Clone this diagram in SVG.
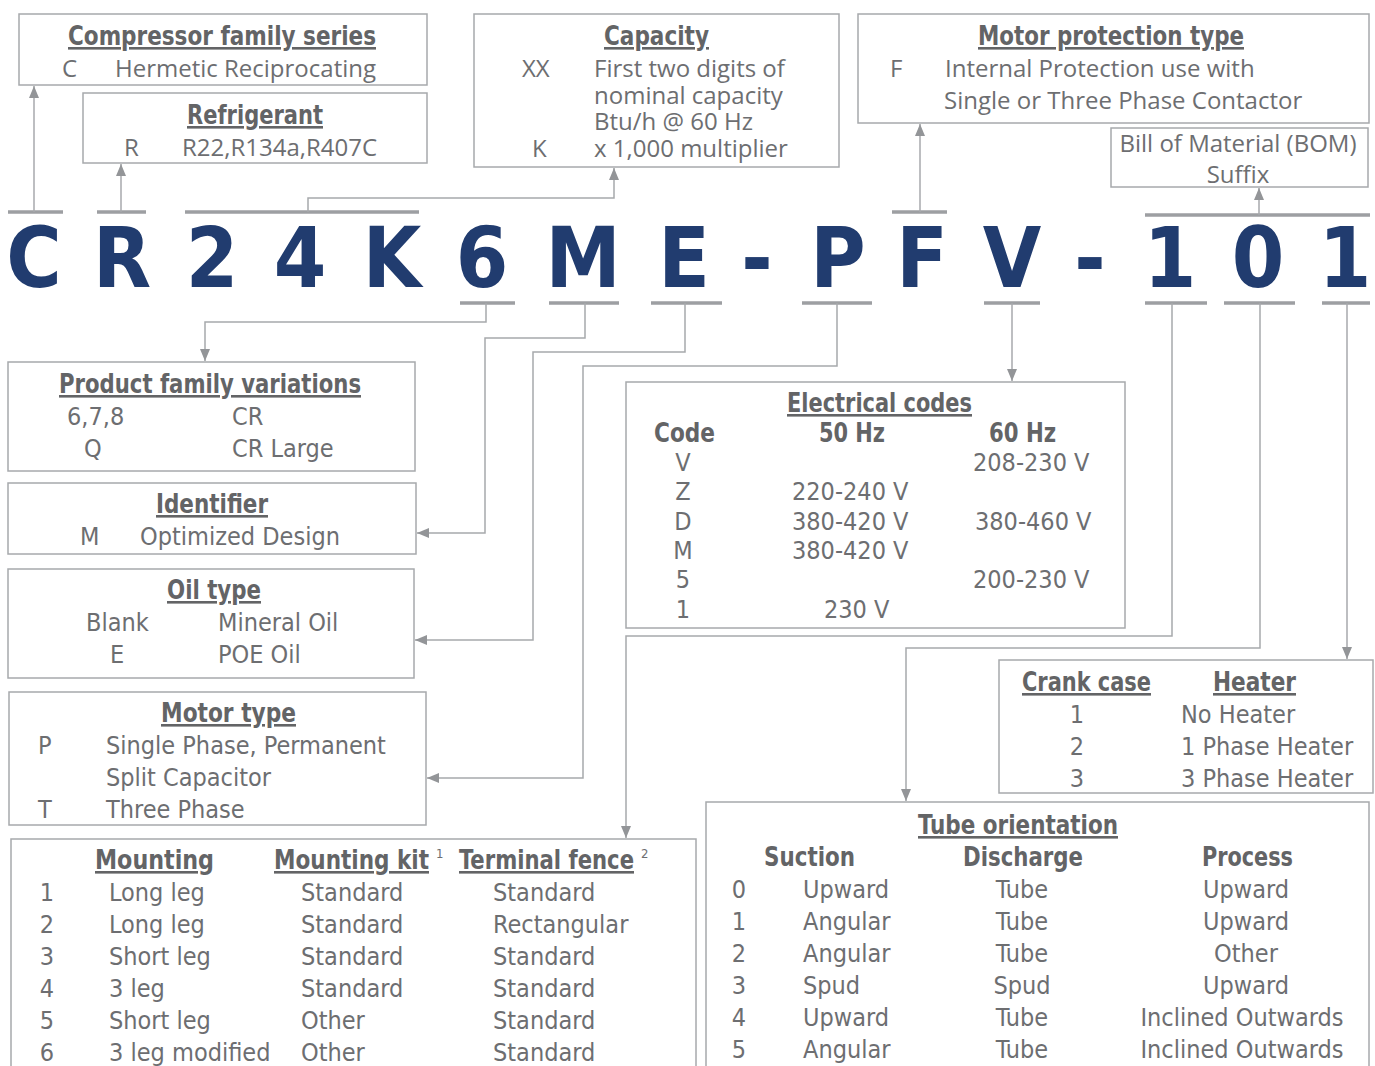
<svg xmlns="http://www.w3.org/2000/svg" width="1375" height="1066" viewBox="0 0 1375 1066">
<style>
.box{fill:#fff;stroke:#a7a9ac;stroke-width:1.5}
.t{font-family:"Liberation Sans Narrow","DejaVu Sans Condensed","Roboto",sans-serif;font-size:25px;fill:#6d6e71}
.tw{font-family:"Open Sans","Noto Sans",sans-serif;font-size:24px;fill:#6d6e71}
.h{font-family:"Liberation Sans Narrow","DejaVu Sans Condensed","Roboto",sans-serif;font-size:26px;font-weight:bold;fill:#636466;text-decoration:underline}
.hb{font-family:"Liberation Sans Narrow","DejaVu Sans Condensed","Roboto",sans-serif;font-size:26px;font-weight:bold;fill:#636466}
.m{text-anchor:middle}
.big{font-family:"Liberation Sans Narrow","DejaVu Sans Condensed","Roboto",sans-serif;font-size:84px;font-weight:bold;fill:#213c6f;text-anchor:middle}
.bar{stroke:#9d9fa2;stroke-width:3.5;fill:none}
.c{stroke:#a7a9ac;stroke-width:1.5;fill:none}
.sup{font-size:13px}
</style>
<defs>
<marker id="ah" viewBox="0 0 12 12" refX="12" refY="6" markerWidth="12" markerHeight="12" markerUnits="userSpaceOnUse" orient="auto">
<path d="M0,1 L12,6 L0,11 Z" fill="#939598"/>
</marker>
</defs>

<g id="code">
<text class="big" x="34" y="287">C</text>
<text class="big" x="122" y="287">R</text>
<text class="big" x="212" y="287">2</text>
<text class="big" x="300" y="287">4</text>
<text class="big" x="392" y="287">K</text>
<text class="big" x="482" y="287">6</text>
<text class="big" x="583" y="287">M</text>
<text class="big" x="684" y="287">E</text>
<text class="big" x="757" y="287">-</text>
<text class="big" x="838" y="287">P</text>
<text class="big" x="922" y="287">F</text>
<text class="big" x="1012" y="287">V</text>
<text class="big" x="1090" y="287">-</text>
<text class="big" x="1170" y="287">1</text>
<text class="big" x="1258" y="287">0</text>
<text class="big" x="1345" y="287">1</text>
</g>

<g id="bars">
<path class="bar" d="M8,212H63 M97,212H146 M185,212H419 M892,212H947 M1145,215H1370"/>
<path class="bar" d="M460,303H515 M549,303H619 M651,303H722 M802,303H872 M984,303H1040 M1145,303H1207 M1224,303H1295 M1322,303H1370"/>
</g>

<g id="connectors">
<path class="c" marker-end="url(#ah)" d="M34,212V86"/>
<path class="c" marker-end="url(#ah)" d="M121,212V164"/>
<path class="c" marker-end="url(#ah)" d="M308,212V198H614V168"/>
<path class="c" marker-end="url(#ah)" d="M920,212V124"/>
<path class="c" marker-end="url(#ah)" d="M1259,215V188"/>
<path class="c" marker-end="url(#ah)" d="M486,303V322H205V361"/>
<path class="c" marker-end="url(#ah)" d="M585,303V338H485V533H417"/>
<path class="c" marker-end="url(#ah)" d="M685,303V352H533V640H415"/>
<path class="c" marker-end="url(#ah)" d="M837,303V366H583V778H427"/>
<path class="c" marker-end="url(#ah)" d="M1012,303V381"/>
<path class="c" marker-end="url(#ah)" d="M1172,303V636H626V838"/>
<path class="c" marker-end="url(#ah)" d="M1260,303V648H906V801"/>
<path class="c" marker-end="url(#ah)" d="M1347,303V659"/>
</g>

<g id="compressor">
<rect class="box" x="19" y="14" width="408" height="71"/>
<text class="h" x="68" y="45" textLength="308" lengthAdjust="spacingAndGlyphs">Compressor  family series</text>
<text class="tw" x="62" y="77">C</text>
<text class="tw" x="115" y="77">Hermetic Reciprocating</text>
</g>

<g id="refrigerant">
<rect class="box" x="83" y="93" width="344" height="70"/>
<text class="h" x="187" y="124" textLength="136" lengthAdjust="spacingAndGlyphs">Refrigerant</text>
<text class="tw" x="124" y="156">R</text>
<text class="tw" x="182" y="156">R22,R134a,R407C</text>
</g>

<g id="capacity">
<rect class="box" x="474" y="14" width="365" height="153"/>
<text class="h" x="604" y="45" textLength="105" lengthAdjust="spacingAndGlyphs">Capacity</text>
<text class="tw" x="522" y="77">XX</text>
<text class="tw" x="594" y="77">First two digits of</text>
<text class="tw" x="594" y="104">nominal capacity</text>
<text class="tw" x="594" y="130">Btu/h @ 60 Hz</text>
<text class="tw" x="532" y="157">K</text>
<text class="tw" x="594" y="157">x 1,000 multiplier</text>
</g>

<g id="motorprotection">
<rect class="box" x="858" y="14" width="511" height="109"/>
<text class="h" x="978" y="45" textLength="266" lengthAdjust="spacingAndGlyphs">Motor protection type</text>
<text class="tw" x="890" y="77">F</text>
<text class="tw" x="945" y="77">Internal Protection use with</text>
<text class="tw" x="944" y="109">Single or Three Phase Contactor</text>
</g>

<g id="bom">
<rect class="box" x="1111" y="128" width="257" height="59"/>
<text class="tw m" x="1238" y="152">Bill of Material (BOM)</text>
<text class="tw m" x="1238" y="183">Suffix</text>
</g>

<g id="productfamily">
<rect class="box" x="8" y="362" width="407" height="109"/>
<text class="h" x="59" y="393" textLength="302" lengthAdjust="spacingAndGlyphs">Product family variations</text>
<text class="t" x="67" y="425">6,7,8</text>
<text class="t" x="232" y="425">CR</text>
<text class="t" x="84" y="457">Q</text>
<text class="t" x="232" y="457">CR Large</text>
</g>

<g id="identifier">
<rect class="box" x="8" y="483" width="408" height="71"/>
<text class="h" x="156" y="513" textLength="112" lengthAdjust="spacingAndGlyphs">Identifier</text>
<text class="t" x="80" y="545">M</text>
<text class="t" x="140" y="545">Optimized Design</text>
</g>

<g id="oiltype">
<rect class="box" x="8" y="569" width="406" height="109"/>
<text class="h" x="167" y="599" textLength="94" lengthAdjust="spacingAndGlyphs">Oil type</text>
<text class="t" x="86" y="631">Blank</text>
<text class="t" x="218" y="631">Mineral Oil</text>
<text class="t" x="110" y="663">E</text>
<text class="t" x="218" y="663">POE Oil</text>
</g>

<g id="motortype">
<rect class="box" x="9" y="692" width="417" height="133"/>
<text class="h" x="161" y="722" textLength="135" lengthAdjust="spacingAndGlyphs">Motor type</text>
<text class="t" x="38" y="754">P</text>
<text class="t" x="106" y="754">Single Phase, Permanent</text>
<text class="t" x="106" y="786">Split Capacitor</text>
<text class="t" x="38" y="818">T</text>
<text class="t" x="106" y="818">Three Phase</text>
</g>

<g id="mounting">
<rect class="box" x="11" y="839" width="685" height="240"/>
<text class="h" x="95" y="869" textLength="119" lengthAdjust="spacingAndGlyphs">Mounting</text>
<text class="h" x="274" y="869" textLength="155" lengthAdjust="spacingAndGlyphs">Mounting kit</text><text class="t sup" x="436" y="858">1</text>
<text class="h" x="459" y="869" textLength="175" lengthAdjust="spacingAndGlyphs">Terminal fence</text><text class="t sup" x="641" y="858">2</text>
<text class="t m" x="47" y="901">1</text><text class="t" x="109" y="901">Long leg</text><text class="t" x="301" y="901">Standard</text><text class="t" x="493" y="901">Standard</text>
<text class="t m" x="47" y="933">2</text><text class="t" x="109" y="933">Long leg</text><text class="t" x="301" y="933">Standard</text><text class="t" x="493" y="933">Rectangular</text>
<text class="t m" x="47" y="965">3</text><text class="t" x="109" y="965">Short leg</text><text class="t" x="301" y="965">Standard</text><text class="t" x="493" y="965">Standard</text>
<text class="t m" x="47" y="997">4</text><text class="t" x="109" y="997">3 leg</text><text class="t" x="301" y="997">Standard</text><text class="t" x="493" y="997">Standard</text>
<text class="t m" x="47" y="1029">5</text><text class="t" x="109" y="1029">Short leg</text><text class="t" x="301" y="1029">Other</text><text class="t" x="493" y="1029">Standard</text>
<text class="t m" x="47" y="1061">6</text><text class="t" x="109" y="1061">3 leg modified</text><text class="t" x="301" y="1061">Other</text><text class="t" x="493" y="1061">Standard</text>
</g>

<g id="electrical">
<rect class="box" x="626" y="382" width="499" height="246"/>
<text class="h" x="787" y="412" textLength="185" lengthAdjust="spacingAndGlyphs">Electrical codes</text>
<text class="hb" x="654" y="442" textLength="61" lengthAdjust="spacingAndGlyphs">Code</text>
<text class="hb" x="819" y="442" textLength="66" lengthAdjust="spacingAndGlyphs">50 Hz</text>
<text class="hb" x="989" y="442" textLength="67" lengthAdjust="spacingAndGlyphs">60 Hz</text>
<text class="t m" x="683" y="471">V</text><text class="t" x="973" y="471">208-230 V</text>
<text class="t m" x="683" y="500">Z</text><text class="t" x="792" y="500">220-240 V</text>
<text class="t m" x="683" y="530">D</text><text class="t" x="792" y="530">380-420 V</text><text class="t" x="975" y="530">380-460 V</text>
<text class="t m" x="683" y="559">M</text><text class="t" x="792" y="559">380-420 V</text>
<text class="t m" x="683" y="588">5</text><text class="t" x="973" y="588">200-230 V</text>
<text class="t m" x="683" y="618">1</text><text class="t" x="824" y="618">230 V</text>
</g>

<g id="crankcase">
<rect class="box" x="999" y="660" width="374" height="133"/>
<text class="h" x="1022" y="691" textLength="129" lengthAdjust="spacingAndGlyphs">Crank case</text>
<text class="h" x="1213" y="691" textLength="83" lengthAdjust="spacingAndGlyphs">Heater</text>
<text class="t m" x="1077" y="723">1</text><text class="t" x="1181" y="723">No Heater</text>
<text class="t m" x="1077" y="755">2</text><text class="t" x="1181" y="755">1 Phase Heater</text>
<text class="t m" x="1077" y="787">3</text><text class="t" x="1181" y="787">3 Phase Heater</text>
</g>

<g id="tube">
<rect class="box" x="706" y="802" width="663" height="280"/>
<text class="h" x="918" y="834" textLength="200" lengthAdjust="spacingAndGlyphs">Tube orientation</text>
<text class="hb" x="764" y="866" textLength="91" lengthAdjust="spacingAndGlyphs">Suction</text>
<text class="hb" x="963" y="866" textLength="120" lengthAdjust="spacingAndGlyphs">Discharge</text>
<text class="hb" x="1202" y="866" textLength="91" lengthAdjust="spacingAndGlyphs">Process</text>
<text class="t m" x="739" y="898">0</text><text class="t" x="803" y="898">Upward</text><text class="t m" x="1022" y="898">Tube</text><text class="t m" x="1246" y="898">Upward</text>
<text class="t m" x="739" y="930">1</text><text class="t" x="803" y="930">Angular</text><text class="t m" x="1022" y="930">Tube</text><text class="t m" x="1246" y="930">Upward</text>
<text class="t m" x="739" y="962">2</text><text class="t" x="803" y="962">Angular</text><text class="t m" x="1022" y="962">Tube</text><text class="t m" x="1246" y="962">Other</text>
<text class="t m" x="739" y="994">3</text><text class="t" x="803" y="994">Spud</text><text class="t m" x="1022" y="994">Spud</text><text class="t m" x="1246" y="994">Upward</text>
<text class="t m" x="739" y="1026">4</text><text class="t" x="803" y="1026">Upward</text><text class="t m" x="1022" y="1026">Tube</text><text class="t m" x="1242" y="1026">Inclined Outwards</text>
<text class="t m" x="739" y="1058">5</text><text class="t" x="803" y="1058">Angular</text><text class="t m" x="1022" y="1058">Tube</text><text class="t m" x="1242" y="1058">Inclined Outwards</text>
</g>
</svg>
